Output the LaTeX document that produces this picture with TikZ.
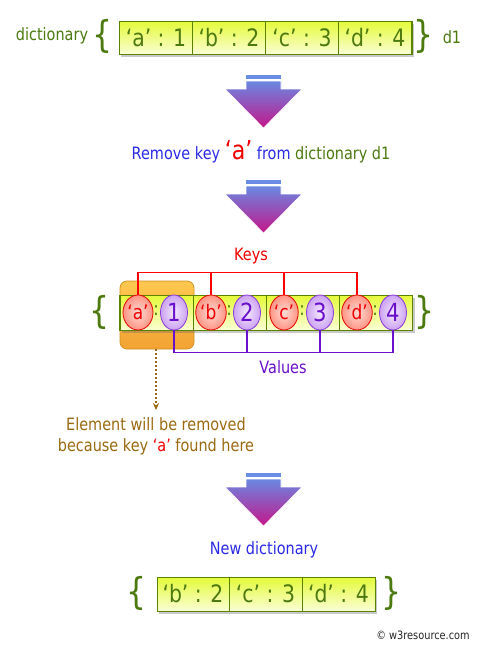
\documentclass[tikz,border=0pt]{standalone}
\usepackage{fontspec}
\setmainfont{DejaVu Sans}[FakeStretch=0.85]
\usetikzlibrary{shadows,arrows.meta,calc,shapes.geometric}
\definecolor{dgreen}{HTML}{4C7A10}
\definecolor{cellborder}{HTML}{5A8400}
\definecolor{celltop}{HTML}{E4FA38}
\definecolor{cellbot}{HTML}{FAFFD4}
\definecolor{rblue}{HTML}{2A2AE6}
\definecolor{kred}{HTML}{F00000}
\definecolor{vpurple}{HTML}{6A10CC}
\definecolor{vborder}{HTML}{8A3AD8}
\definecolor{brown}{HTML}{9A6A12}
\definecolor{arrtop}{HTML}{6A88E2}
\definecolor{arrbot}{HTML}{C4168A}
\definecolor{barblue}{HTML}{6A8EE6}
\definecolor{orgtop}{HTML}{FFC850}
\definecolor{orgbot}{HTML}{F2A232}
\definecolor{orgborder}{HTML}{D49224}
\definecolor{kin}{HTML}{FFDCD4}
\definecolor{kout}{HTML}{FF9484}
\definecolor{vin}{HTML}{F4E8FF}
\definecolor{vout}{HTML}{CCA2F2}
\tikzset{
  lbl/.style={inner sep=0pt, font=\fontsize{17}{20}\selectfont},
  brace/.style={inner sep=0pt, text=dgreen, font=\fontsize{37}{37}\selectfont},
  frame/.style={draw=cellborder, line width=1pt, fill=cellbot, minimum height=#1, inner sep=0pt,
    drop shadow={shadow xshift=2pt, shadow yshift=-3pt, opacity=0.35, fill=black!60}},
  cell/.style={draw=cellborder, line width=0.8pt, top color=celltop, bottom color=cellbot,
    minimum width=73pt, minimum height=#1, inner sep=0pt, text=dgreen,
    font=\fontsize{24}{24}\selectfont},
  keyell/.style={ellipse, draw=red!90!black, line width=0.8pt, inner color=kin, outer color=kout,
    minimum width=28pt, minimum height=35pt, inner sep=0pt, text=kred, font=\fontsize{20}{20}\selectfont},
  valell/.style={ellipse, draw=vborder, line width=0.8pt, inner color=vin, outer color=vout,
    minimum width=27pt, minimum height=35pt, inner sep=0pt, text=vpurple, font=\fontsize{25}{25}\selectfont},
  colon/.style={inner sep=0pt, text=dgreen, font=\fontsize{19}{19}\selectfont},
  keyline/.style={draw=red, line width=1.6pt},
  valline/.style={draw=vpurple, line width=1.6pt},
  bigarrow/.pic={
    \fill[barblue] (-17.5,0) rectangle (17.5,4);
    \shade[top color=arrtop, bottom color=arrbot, draw=white, line width=0.6pt]
      (-17.5,6) -- (17.5,6) -- (17.5,14) -- (38.5,14) -- (0,53) -- (-38.5,14) -- (-17.5,14) -- cycle;
  }
}
\begin{document}
\begin{tikzpicture}[x=1pt,y=-1pt]
\useasboundingbox (0,0) rectangle (481,649);
\fill[white] (0,0) rectangle (481,649);

% ---------- top dictionary ----------
\node[lbl, text=dgreen] (dictlbl) at (52,36) {dictionary};
\node[brace] (tl) at (103,36) {\{};
\node[frame=33pt, minimum width=293pt] (topframe) at (265.5,37.5) {};
\node[cell=33pt] (t1) at (156,37.5) {‘a’ : 1};
\node[cell=33pt] (t2) at (229,37.5) {‘b’ : 2};
\node[cell=33pt] (t3) at (302,37.5) {‘c’ : 3};
\node[cell=33pt] (t4) at (375,37.5) {‘d’ : 4};
\node[brace] (tr) at (424,36) {\}};
\node[lbl, text=dgreen] (d1lbl) at (452,37) {d1};

% ---------- arrow 1 ----------
\pic at (263.5,75) {bigarrow};
\node[lbl] (remove) at (261,152) {\textcolor{rblue}{Remove key}\ \textcolor{kred}{\fontsize{26}{26}\selectfont ‘a’}\ \textcolor{rblue}{from}\ \textcolor{dgreen}{dictionary d1}};

% ---------- arrow 2 ----------
\pic at (263.5,180) {bigarrow};

\node[lbl, text=kred] (keys) at (251,256) {Keys};

% ---------- highlighted bar ----------
\node[draw=orgborder, line width=0.8pt, rounded corners=7pt, top color=orgtop, bottom color=orgbot,
      minimum width=74pt, minimum height=68pt, inner sep=0pt] (hl) at (157,315) {};
\node[brace] (ml) at (100,312) {\{};
\node[frame=35pt, minimum width=293pt] (midframe) at (266,312.5) {};
\node[cell=35pt] (m1) at (156.5,312.5) {};
\node[cell=35pt] (m2) at (229.5,312.5) {};
\node[cell=35pt] (m3) at (302.5,312.5) {};
\node[cell=35pt] (m4) at (375.5,312.5) {};
\node[brace] (mr) at (425,312) {\}};

\node[keyell] (k1) at (138,312.5) {‘a’};
\node[keyell] (k2) at (211,312.5) {‘b’};
\node[keyell] (k3) at (284,312.5) {‘c’};
\node[keyell] (k4) at (357,312.5) {‘d’};
\node[colon] (c1) at (156,311) {:};
\node[colon] (c2) at (229,311) {:};
\node[colon] (c3) at (302,311) {:};
\node[colon] (c4) at (375,311) {:};
\node[valell] (v1) at (174,312.5) {1};
\node[valell] (v2) at (247,312.5) {2};
\node[valell] (v3) at (320,312.5) {3};
\node[valell] (v4) at (393,312.5) {4};

\draw[keyline] (k1.north) -- ++(0,-22) -| (k4.north);
\draw[keyline] (k2.north) -- ++(0,-22);
\draw[keyline] (k3.north) -- ++(0,-22);

\draw[valline] (v1.south) -- ++(0,22) -| (v4.south);
\draw[valline] (v2.south) -- ++(0,22);
\draw[valline] (v3.south) -- ++(0,22);

\node[lbl, text=vpurple] (values) at (283,367) {Values};

% ---------- note ----------
\node[lbl, text=brown, align=center, font=\fontsize{17}{21}\selectfont] (note) at (156,436)
  {Element will be removed\\because key \textcolor{kred}{‘a’} found here};
\draw[brown, line width=1.7pt, dash pattern=on 2pt off 2pt, -{Stealth[length=7pt,width=6pt]}]
  (hl.south -| note.north) -- ($(note.north)+(0,-7)$);

% ---------- arrow 3 ----------
\pic at (263.5,473) {bigarrow};
\node[lbl, text=rblue] (newd) at (264,550) {New dictionary};

% ---------- bottom dictionary ----------
\node[brace] (bl) at (137,593) {\{};
\node[frame=34pt, minimum width=218pt] (botframe) at (266,594) {};
\node[cell=34pt, minimum width=72pt] (b1) at (193,594) {‘b’ : 2};
\node[cell=34pt] (b2) at (265.5,594) {‘c’ : 3};
\node[cell=34pt] (b3) at (338.5,594) {‘d’ : 4};
\node[brace] (br) at (392,593) {\}};

\node[inner sep=0pt, text=black!85, font=\fontsize{11.5}{12}\selectfont] (wm) at (423,635) {© w3resource.com};
\end{tikzpicture}
\end{document}
